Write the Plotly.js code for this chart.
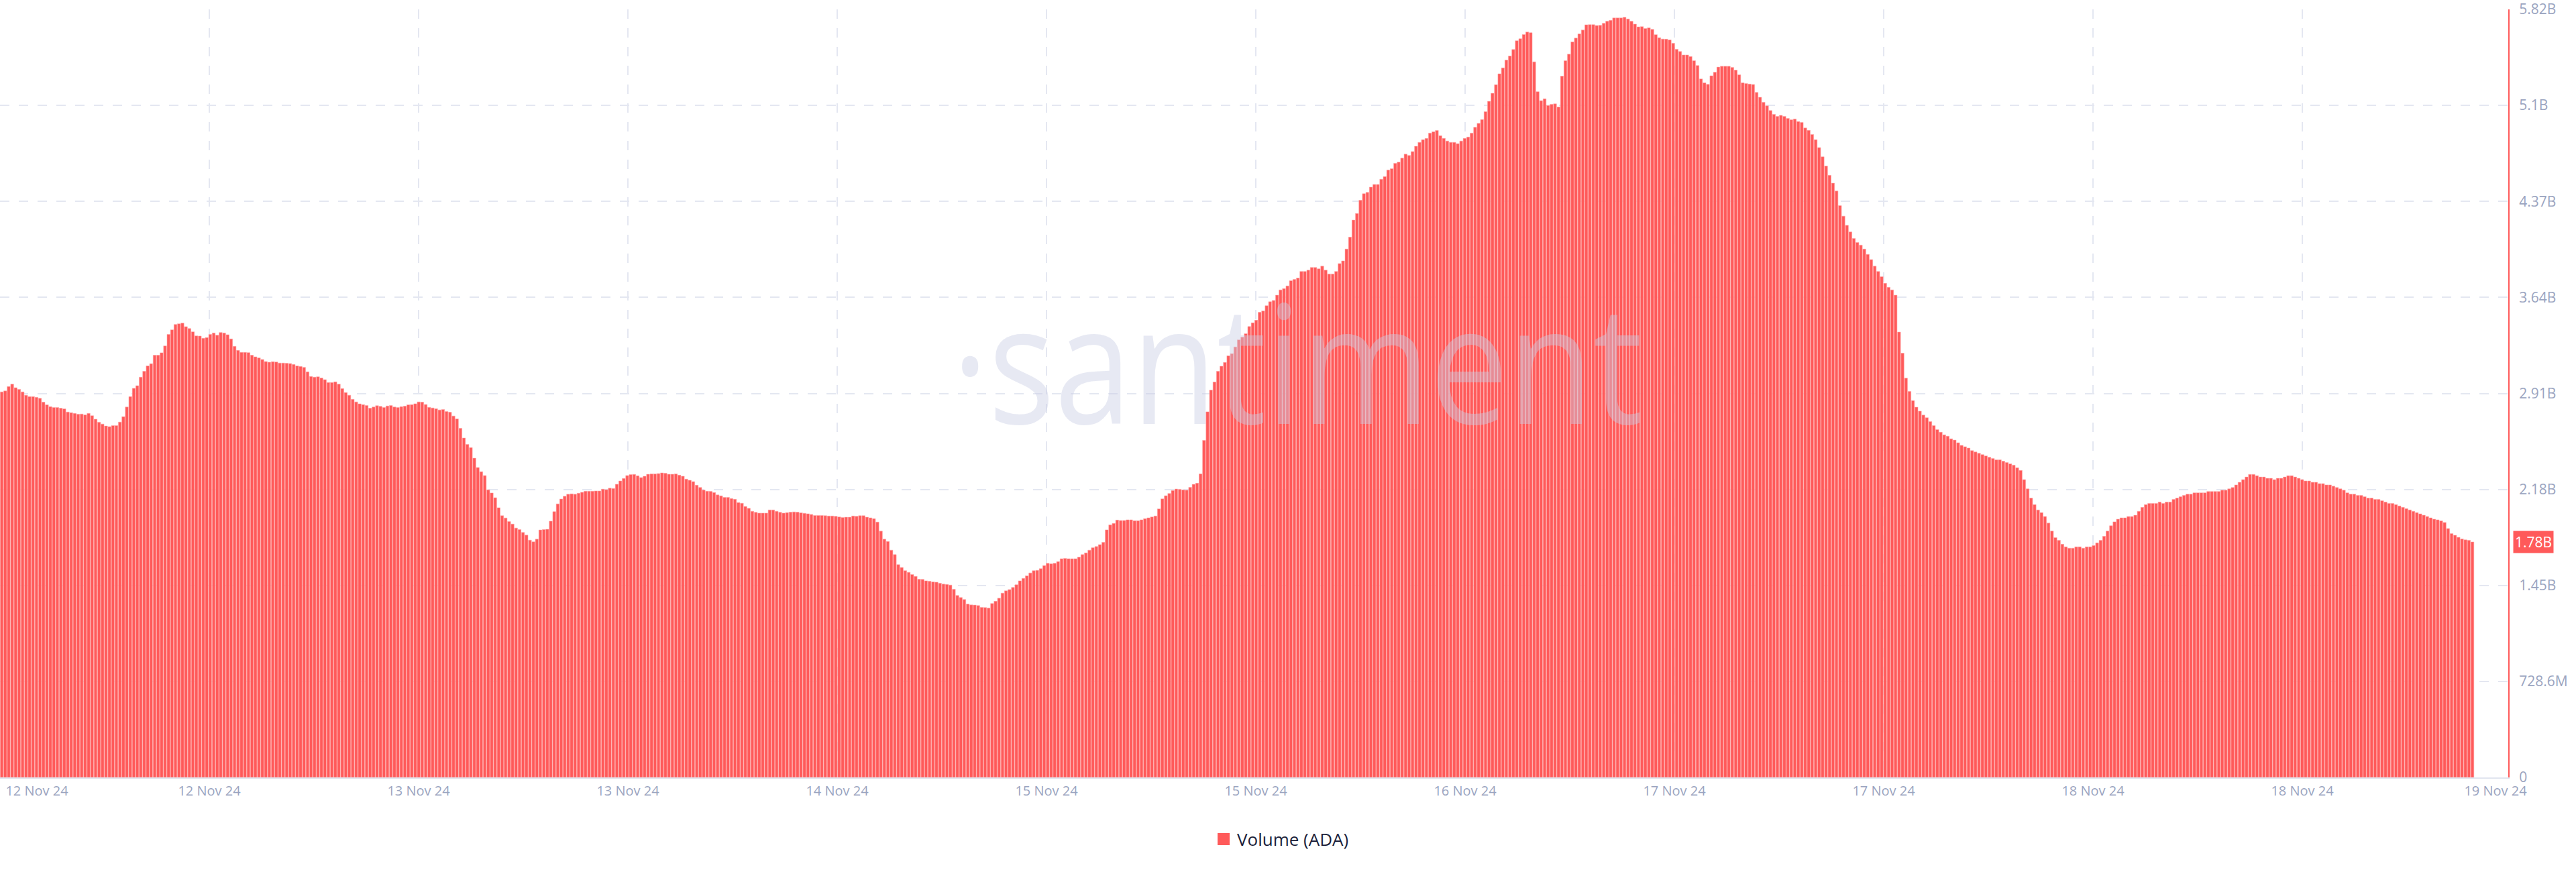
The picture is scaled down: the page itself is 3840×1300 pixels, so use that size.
<!DOCTYPE html>
<html><head><meta charset="utf-8">
<script src="https://cdn.plot.ly/plotly-3.0.1.min.js"></script>
<style>
html,body{margin:0;padding:0;background:#fff;}
#wrap{position:relative;width:3840px;height:1300px;overflow:hidden;}
#wm{position:absolute;left:1419px;top:415px;font-family:'Open Sans',sans-serif;font-size:245px;line-height:1;color:rgba(200,205,228,0.44);transform:scaleX(0.845);transform-origin:left top;white-space:nowrap;z-index:2;pointer-events:none;}
#chart{position:absolute;left:0;top:0;width:3840px;height:1300px;z-index:1;}
</style></head>
<body><div id="wrap"><div id="chart"></div><div id="wm">·santiment</div></div>
<script>
// ---- data (volume in billions of ADA) ----
const tickLabels = ["12 Nov 24","12 Nov 24","13 Nov 24","13 Nov 24","14 Nov 24","15 Nov 24","15 Nov 24","16 Nov 24","17 Nov 24","17 Nov 24","18 Nov 24","18 Nov 24","19 Nov 24"];
const yTickValues = [0,0.7286,1.4572,2.1858,2.9144,3.643,4.3716,5.1002,5.8288];
const yTickLabels = ["0","728.6M","1.45B","2.18B","2.91B","3.64B","4.37B","5.1B","5.82B"];
const seriesName = "Volume (ADA)";
const lastValueLabel = "1.78B";

const volSeg1 = [2.926,2.933,2.967,2.985,2.958,2.945,2.926,2.901,2.890,2.890,
2.885,2.877,2.848,2.828,2.814,2.807,2.807,2.802,2.797,2.773,
2.768,2.763,2.757,2.758,2.752,2.763,2.745,2.719,2.696,2.682,
2.667,2.662,2.670,2.670,2.697,2.738,2.811,2.890,2.953,2.973,
3.038,3.082,3.123,3.140,3.204,3.204,3.223,3.275,3.363,3.397,
3.438,3.443,3.448,3.421,3.407,3.382,3.351,3.350,3.333,3.338,
3.363,3.373,3.356,3.377,3.373,3.360,3.328,3.272,3.241,3.226,
3.226,3.224,3.204,3.192,3.184,3.172,3.156,3.151,3.155,3.153,
3.145,3.145,3.143,3.141,3.134,3.123,3.119,3.112,3.078,3.043,
3.038,3.041,3.031,3.019,2.997,2.997,3.002,2.985,2.951,2.921,
2.901,2.870,2.850,2.835,2.829,2.823,2.802,2.811,2.821,2.816,
2.807,2.819,2.823,2.811,2.807,2.814,2.818,2.828,2.829,2.836];

const volSeg2 = [2.850,2.848,2.830,2.809,2.804,2.798,2.789,2.792,2.777,2.772,
2.743,2.721,2.650,2.576,2.528,2.503,2.423,2.352,2.320,2.291,
2.183,2.159,2.123,2.047,1.986,1.969,1.942,1.923,1.893,1.881,
1.859,1.839,1.801,1.788,1.808,1.878,1.881,1.883,1.945,2.017,
2.076,2.113,2.134,2.149,2.152,2.149,2.157,2.164,2.172,2.172,
2.172,2.174,2.174,2.188,2.184,2.195,2.193,2.225,2.250,2.269,
2.291,2.298,2.300,2.289,2.276,2.286,2.301,2.303,2.303,2.306,
2.311,2.308,2.301,2.301,2.303,2.294,2.286,2.264,2.255,2.245,
2.218,2.201,2.181,2.172,2.171,2.162,2.144,2.137,2.125,2.125,
2.117,2.111,2.086,2.081,2.056,2.042,2.020,2.012,2.006,2.006,
2.006,2.030,2.030,2.020,2.012,2.006,2.010,2.013,2.015,2.013,
2.008,2.005,2.001,1.996,1.988,1.988,1.988,1.986,1.984,1.984];

const volSeg3 = [1.982,1.977,1.972,1.975,1.975,1.984,1.982,1.986,1.986,1.975,
1.970,1.964,1.938,1.869,1.808,1.791,1.725,1.691,1.615,1.593,
1.569,1.557,1.540,1.526,1.504,1.503,1.492,1.489,1.484,1.482,
1.474,1.467,1.465,1.460,1.428,1.381,1.365,1.350,1.316,1.309,
1.308,1.304,1.291,1.289,1.286,1.320,1.337,1.360,1.399,1.416,
1.426,1.442,1.462,1.492,1.511,1.530,1.552,1.569,1.572,1.584,
1.608,1.625,1.621,1.625,1.638,1.660,1.662,1.660,1.660,1.660,
1.672,1.691,1.704,1.725,1.743,1.752,1.767,1.784,1.879,1.916,
1.928,1.953,1.950,1.950,1.955,1.955,1.948,1.948,1.955,1.964,
1.970,1.977,1.984,2.038,2.114,2.138,2.155,2.177,2.189,2.186,
2.182,2.180,2.202,2.224,2.233,2.304,2.558,2.775,2.940,3.001,
3.082,3.121,3.150,3.200,3.216,3.267,3.321,3.341,3.368,3.422];

const volSeg4 = [3.45,3.47,3.53,3.54,3.58,3.61,3.62,3.66,3.70,3.71,
3.73,3.77,3.78,3.79,3.84,3.84,3.85,3.87,3.87,3.86,
3.88,3.85,3.82,3.82,3.84,3.90,3.92,4.01,4.10,4.23,
4.28,4.38,4.43,4.44,4.48,4.50,4.50,4.54,4.56,4.61,
4.62,4.66,4.67,4.70,4.73,4.72,4.75,4.79,4.82,4.84,
4.85,4.89,4.90,4.91,4.87,4.85,4.83,4.82,4.82,4.81,
4.83,4.85,4.86,4.89];

const volSeg5 = [4.934,4.964,4.993,5.053,5.131,5.192,5.257,5.340,5.385,5.444,
5.475,5.524,5.591,5.606,5.638,5.657,5.652,5.431,5.204,5.136,
5.150,5.099,5.109,5.112,5.088,5.322,5.439,5.489,5.582,5.611,
5.643,5.672,5.712,5.713,5.713,5.706,5.708,5.723,5.739,5.746,
5.764,5.764,5.764,5.769,5.756,5.739,5.717,5.696,5.698,5.684,
5.689,5.677,5.637,5.614,5.604,5.603,5.597,5.572,5.526,5.509,
5.483,5.483,5.471,5.439,5.403,5.301,5.271,5.260,5.325,5.352,
5.391,5.397,5.397,5.397,5.388,5.368,5.332,5.272,5.266,5.262,
5.259,5.199,5.162,5.124,5.097,5.061,5.032,5.017,5.025,5.017,
5.002,4.991,4.997,4.978,4.971,4.929,4.911];

const volSeg6 = [4.88,4.84,4.78,4.71,4.64,4.57,4.51,4.45,4.34,4.26,
4.19,4.14,4.09,4.06,4.04,4.01,3.97,3.93,3.88,3.84,
3.80,3.75,3.72,3.70,3.66,3.38,3.22,3.03,2.93,2.86,
2.81,2.78,2.75,2.73,2.70,2.67,2.64,2.62,2.60,2.59,
2.57,2.56,2.54,2.52,2.51,2.50,2.48,2.47,2.46,2.45,
2.44,2.43,2.42,2.41,2.41,2.40,2.39,2.38,2.37,2.35,
2.33,2.26,2.19,2.12,2.07,2.03,2.01,1.98,1.93,1.87,
1.82,1.80,1.77,1.75,1.74,1.74,1.75,1.75,1.74,1.75,
1.75,1.76,1.78,1.80,1.83,1.87,1.91,1.94,1.96,1.97,
1.97,1.98,1.98,1.99,2.02,2.05,2.07,2.08,2.08,2.08,
2.09,2.08,2.09,2.09,2.11,2.12,2.13,2.14,2.15,2.15,
2.16,2.16,2.16,2.16,2.17,2.17,2.17,2.17,2.18,2.18,
2.19,2.20,2.22,2.24,2.26,2.28,2.30,2.30,2.29,2.28,
2.28,2.27,2.27,2.26,2.27,2.27,2.28,2.29,2.29,2.28,
2.27,2.26,2.25,2.25,2.24,2.24,2.23,2.23,2.22,2.22,
2.21,2.20,2.19,2.18,2.16,2.15,2.15,2.14,2.14,2.13,
2.12,2.12,2.11,2.11,2.10,2.09,2.08,2.08,2.07,2.06,
2.05,2.04,2.03,2.02,2.01,2.00,1.99,1.98,1.97,1.96];

const volSeg7 = [1.955,1.947,1.935,1.889,1.850,1.838,1.822,1.810,1.803,1.800,1.787];

// ---- build ----
const volume = [].concat(volSeg1,volSeg2,volSeg3,volSeg4,volSeg5,volSeg6,volSeg7);
const idx = volume.map((_,i)=>i);

const W=3840,H=1300,ML=0,MR=101,MT=14,MB=141;
const plotW = W-ML-MR;
const slotPx = 5.18;
const xMax = -0.5 + plotW/slotPx;
const gridStepPx = 312;
const gridVals = tickLabels.map((_,k)=> -0.5 + k*gridStepPx/slotPx);
const labelPx = tickLabels.map((_,k)=> k*gridStepPx);
labelPx[0] = 55; labelPx[labelPx.length-1] = 3720;
const labelVals = labelPx.map(p=> -0.5 + p/slotPx);

const RED = '#ff5a5a';
const TICKC = '#9aa4c0';
const GRIDC = '#e4e7f1';
const FONT = "'Open Sans', sans-serif";

const traces = [
  {type:'bar', x:idx, y:volume, name:seriesName, xaxis:'x', yaxis:'y',
   marker:{color:RED, line:{color:'#ffa8a8', width:0.6}}, showlegend:false, hoverinfo:'skip'},
  {type:'scatter', x:[0], y:[null], xaxis:'x2', yaxis:'y', mode:'markers', showlegend:false, hoverinfo:'skip'}
];

const plotH = H-MT-MB;
const pyFrac = px => (H-MB-px)/plotH;
const pxFrac = px => (px-ML)/plotW;

const layout = {
  width:W, height:H,
  margin:{l:ML, r:MR, t:MT, b:MB, pad:0},
  paper_bgcolor:'rgba(0,0,0,0)', plot_bgcolor:'rgba(0,0,0,0)',
  bargap:0.14,
  showlegend:false,
  font:{family:FONT, color:TICKC},
  xaxis:{range:[-0.5,xMax], tickmode:'array', tickvals:gridVals, showticklabels:false,
         showgrid:true, gridcolor:GRIDC, gridwidth:2, griddash:'14px,14px',
         showline:true, linecolor:'#e1e5ef', linewidth:2, zeroline:false, ticks:'', fixedrange:true},
  xaxis2:{overlaying:'x', side:'bottom', range:[-0.5,xMax], tickmode:'array', tickvals:labelVals, ticktext:tickLabels,
          showgrid:false, showline:false, zeroline:false, ticks:'', ticklabelstandoff:6, ticklabeloverflow:'allow',
          tickfont:{family:FONT, size:20, color:TICKC}},
  yaxis:{side:'right', range:[0,5.8288], tickmode:'array', tickvals:yTickValues, ticktext:yTickLabels,
         showgrid:true, gridcolor:GRIDC, gridwidth:2, griddash:'14px,14px',
         showline:true, linecolor:RED, linewidth:2, zeroline:false, ticks:'', ticklabelstandoff:10,
         ticklabeloverflow:'allow',
         tickfont:{family:FONT, size:21, color:TICKC}},
  shapes:[
    {type:'rect', xref:'paper', yref:'paper', x0:pxFrac(1815), x1:pxFrac(1833), y0:pyFrac(1260), y1:pyFrac(1242),
     fillcolor:RED, line:{width:0}}
  ],
  annotations:[
    {xref:'paper', yref:'paper', x:pxFrac(1842), y:pyFrac(1251), xanchor:'left', yanchor:'middle',
     text:seriesName, showarrow:false, font:{family:FONT, size:26, color:'#1b1f3b'}},
    {xref:'paper', yref:'y', x:1, y:volume[volume.length-1], xanchor:'left', yanchor:'middle', xshift:7,
     text:lastValueLabel, showarrow:false, bgcolor:RED, borderpad:2,
     font:{family:FONT, size:21, color:'#ffffff'}}
  ]
};

Plotly.newPlot('chart', traces, layout, {displayModeBar:false, staticPlot:true});
</script>
</body></html>
